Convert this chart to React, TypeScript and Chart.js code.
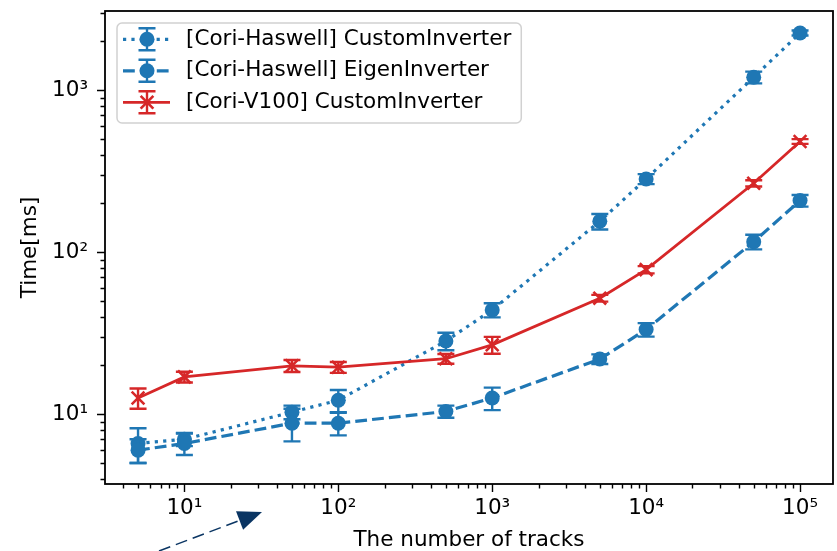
import React, { useEffect, useRef } from 'react';
import Chart from 'chart.js/auto';

// Benchmark: matrix-inversion time vs. number of tracks
const tracks = [5, 10, 50, 100, 500, 1000, 5000, 10000, 50000, 100000];

const haswellCustom = [6.6, 7.0, 10.3, 12.2, 28.3, 44, 155, 283, 1200, 2250];
const haswellCustomErr = [1.6, 0.65, 1.0, 1.9, 3.5, 4.4, 17, 20, 100, 80];

const haswellEigen = [6.0, 6.6, 8.8, 8.8, 10.4, 12.6, 21.9, 33.3, 116, 208];
const haswellEigenErr = [1.0, 1.0, 2.0, 1.4, 0.9, 2.0, 1.5, 3.2, 12, 17];

const v100Custom = [12.6, 17.0, 19.9, 19.5, 22.0, 26.8, 52, 78, 266, 482];
const v100CustomErr = [1.8, 1.3, 1.7, 1.5, 1.5, 3.2, 2.5, 4, 12, 16];

const seriesLabels = [
  '[Cori-Haswell] CustomInverter',
  '[Cori-Haswell] EigenInverter',
  '[Cori-V100] CustomInverter',
];

const xRange = [3.05, 163700];
const yRange = [3.71, 3076];

const BLUE = '#1f77b4';
const RED = '#d62728';
const FONT = '"DejaVu Sans", sans-serif';
const FS = 21.5;

const SUP: Record<string, string> = {
  '0': '\u2070', '1': '\u00b9', '2': '\u00b2', '3': '\u00b3', '4': '\u2074',
  '5': '\u2075', '6': '\u2076', '7': '\u2077', '8': '\u2078', '9': '\u2079', '-': '\u207b',
};

function isPow10(v: number) {
  const e = Math.log10(v);
  return Math.abs(e - Math.round(e)) < 1e-6;
}

function decadeLabel(v: number) {
  if (!isPow10(v)) return '';
  const e = String(Math.round(Math.log10(v)));
  return '10' + e.split('').map((c) => SUP[c] || c).join('');
}

function logTicks(min: number, max: number) {
  const out: { value: number; major: boolean }[] = [];
  for (let k = Math.floor(Math.log10(min)); k <= Math.ceil(Math.log10(max)); k++) {
    for (let m = 1; m <= 9; m++) {
      const v = m * Math.pow(10, k);
      if (v >= min && v <= max) out.push({ value: v, major: m === 1 });
    }
  }
  return out;
}

function points(values: number[]) {
  return tracks.map((x, i) => ({ x, y: values[i] }));
}

function drawErrorBar(ctx: CanvasRenderingContext2D, x: number, yTop: number, yBot: number, cap: number) {
  ctx.beginPath();
  ctx.moveTo(x, yTop);
  ctx.lineTo(x, yBot);
  ctx.moveTo(x - cap, yTop);
  ctx.lineTo(x + cap, yTop);
  ctx.moveTo(x - cap, yBot);
  ctx.lineTo(x + cap, yBot);
  ctx.stroke();
}

function drawMarker(ctx: CanvasRenderingContext2D, style: string, x: number, y: number, r: number, color: string) {
  ctx.save();
  ctx.setLineDash([]);
  if (style === 'crossRot') {
    const d = r * Math.SQRT1_2;
    ctx.strokeStyle = color;
    ctx.lineWidth = 2.6;
    ctx.beginPath();
    ctx.moveTo(x - d, y - d);
    ctx.lineTo(x + d, y + d);
    ctx.moveTo(x - d, y + d);
    ctx.lineTo(x + d, y - d);
    ctx.stroke();
  } else {
    ctx.fillStyle = color;
    ctx.beginPath();
    ctx.arc(x, y, r, 0, Math.PI * 2);
    ctx.fill();
  }
  ctx.restore();
}

// y error bars, painted just beneath each series' own line
const errorBarPlugin = {
  id: 'errorBars',
  beforeDatasetDraw(chart: any, args: any) {
    const ds = chart.data.datasets[args.index];
    const err: number[] | undefined = ds.errorBars;
    if (!err) return;
    const { ctx, scales } = chart;
    ctx.save();
    ctx.strokeStyle = ds.borderColor;
    ctx.lineWidth = 2.4;
    ctx.setLineDash([]);
    ds.data.forEach((p: { x: number; y: number }, i: number) => {
      const px = scales.x.getPixelForValue(p.x);
      const yt = scales.y.getPixelForValue(p.y + err[i]);
      const yb = scales.y.getPixelForValue(p.y - err[i]);
      drawErrorBar(ctx, px, yt, yb, 8.5);
    });
    ctx.restore();
  },
};

// axes box with major/minor log ticks
const framePlugin = {
  id: 'frame',
  afterDraw(chart: any) {
    const { ctx, chartArea: a, scales } = chart;
    ctx.save();
    ctx.strokeStyle = '#000';
    ctx.lineWidth = 1.4;
    ctx.setLineDash([]);
    ctx.beginPath();
    for (const t of scales.x.ticks) {
      const px = Math.round(scales.x.getPixelForValue(t.value)) + 0.5;
      const len = isPow10(t.value) ? 8 : 4.5;
      ctx.moveTo(px, a.bottom);
      ctx.lineTo(px, a.bottom + len);
    }
    for (const t of scales.y.ticks) {
      const py = Math.round(scales.y.getPixelForValue(t.value)) + 0.5;
      const len = isPow10(t.value) ? 8 : 4.5;
      ctx.moveTo(a.left, py);
      ctx.lineTo(a.left - len, py);
    }
    ctx.stroke();
    ctx.lineWidth = 1.8;
    ctx.strokeRect(a.left, a.top, a.right - a.left, a.bottom - a.top);
    ctx.restore();
  },
};

// legend box in the upper-left corner of the plot
const legendPlugin = {
  id: 'boxLegend',
  afterDraw(chart: any) {
    const { ctx, chartArea: a } = chart;
    const datasets = chart.data.datasets;
    ctx.save();
    ctx.font = `${FS}px ${FONT}`;
    const textX = a.left + 81;
    let maxW = 0;
    datasets.forEach((ds: any) => {
      maxW = Math.max(maxW, ctx.measureText(ds.label).width);
    });
    const bx = a.left + 12;
    const by = a.top + 12;
    const bw = textX + maxW + 10 - bx;
    const bh = 100;
    ctx.beginPath();
    ctx.roundRect(bx, by, bw, bh, 5);
    ctx.fillStyle = 'rgba(255,255,255,0.8)';
    ctx.fill();
    ctx.strokeStyle = 'rgba(204,204,204,0.9)';
    ctx.lineWidth = 1.5;
    ctx.stroke();

    datasets.forEach((ds: any, i: number) => {
      const cy = a.top + 28.3 + i * 31.5;
      const x0 = a.left + 18;
      const x1 = a.left + 65;
      const mx = a.left + 42;
      ctx.strokeStyle = ds.borderColor;
      ctx.lineWidth = ds.borderWidth;
      ctx.setLineDash(ds.borderDash || []);
      ctx.beginPath();
      ctx.moveTo(x0, cy);
      ctx.lineTo(x1, cy);
      ctx.stroke();
      ctx.setLineDash([]);
      ctx.lineWidth = 2.4;
      drawErrorBar(ctx, mx, cy - 11, cy + 11, 8.5);
      drawMarker(ctx, ds.pointStyle, mx, cy, ds.pointRadius, ds.borderColor);
      ctx.fillStyle = '#000';
      ctx.textBaseline = 'middle';
      ctx.textAlign = 'left';
      ctx.fillText(ds.label, textX, cy);
    });
    ctx.restore();
  },
};

// dashed pointer arrow below the x axis
const arrowPlugin = {
  id: 'pointer',
  afterDraw(chart: any) {
    const { ctx, chartArea: a } = chart;
    const sx = a.left + 54;
    const sy = chart.height;
    const tx = a.left + 157;
    const ty = a.bottom + 28;
    const ang = Math.atan2(ty - sy, tx - sx);
    const headLen = 24;
    const headHalf = 10;
    const bxm = tx - headLen * Math.cos(ang);
    const bym = ty - headLen * Math.sin(ang);
    ctx.save();
    ctx.strokeStyle = '#0a3563';
    ctx.fillStyle = '#0a3563';
    ctx.lineWidth = 1.5;
    ctx.setLineDash([12, 6]);
    ctx.beginPath();
    ctx.moveTo(sx, sy);
    ctx.lineTo(bxm, bym);
    ctx.stroke();
    ctx.setLineDash([]);
    ctx.beginPath();
    ctx.moveTo(tx, ty);
    ctx.lineTo(bxm + headHalf * Math.sin(ang), bym - headHalf * Math.cos(ang));
    ctx.lineTo(bxm - headHalf * Math.sin(ang), bym + headHalf * Math.cos(ang));
    ctx.closePath();
    ctx.fill();
    ctx.restore();
  },
};

function fixAxisBox(size: 'width' | 'height', value: number) {
  return (s: any) => {
    s[size] = value;
    s.paddingTop = 0;
    s.paddingBottom = 0;
    s.paddingLeft = 0;
    s.paddingRight = 0;
  };
}

export default function App() {
  const canvasRef = useRef<HTMLCanvasElement | null>(null);

  useEffect(() => {
    const canvas = canvasRef.current;
    if (!canvas) return;
    Chart.defaults.font.family = FONT;
    Chart.defaults.color = '#000';

    const chart = new Chart(canvas, {
      type: 'line',
      data: {
        datasets: [
          {
            label: seriesLabels[0],
            data: points(haswellCustom),
            errorBars: haswellCustomErr,
            borderColor: BLUE,
            backgroundColor: BLUE,
            borderWidth: 3.2,
            borderDash: [3.2, 5.2],
            pointStyle: 'circle',
            pointRadius: 7.5,
            pointBorderWidth: 0,
            pointBackgroundColor: BLUE,
            order: 2,
          },
          {
            label: seriesLabels[1],
            data: points(haswellEigen),
            errorBars: haswellEigenErr,
            borderColor: BLUE,
            backgroundColor: BLUE,
            borderWidth: 3.2,
            borderDash: [11.8, 5.1],
            pointStyle: 'circle',
            pointRadius: 7.5,
            pointBorderWidth: 0,
            pointBackgroundColor: BLUE,
            order: 1,
          },
          {
            label: seriesLabels[2],
            data: points(v100Custom),
            errorBars: v100CustomErr,
            borderColor: RED,
            backgroundColor: RED,
            borderWidth: 2.8,
            borderDash: [],
            pointStyle: 'crossRot',
            pointRadius: 9,
            pointBorderWidth: 2.6,
            pointBorderColor: RED,
            order: 0,
          },
        ] as any,
      },
      options: {
        animation: false,
        responsive: false,
        maintainAspectRatio: false,
        layout: { autoPadding: false, padding: { top: 11, right: 4, left: 0, bottom: 0 } },
        plugins: {
          legend: { display: false },
          tooltip: { enabled: false },
        },
        scales: {
          x: {
            type: 'logarithmic',
            position: 'bottom',
            min: xRange[0],
            max: xRange[1],
            grid: { display: false, drawTicks: true, tickLength: 12 },
            border: { display: false },
            ticks: {
              autoSkip: false,
              maxRotation: 0,
              padding: 0,
              color: '#000',
              font: { size: FS, family: FONT },
              callback: (v: any) => decadeLabel(Number(v)),
            },
            title: {
              display: true,
              text: 'The number of tracks',
              color: '#000',
              font: { size: FS, family: FONT, lineHeight: 1 },
              padding: { top: 0, bottom: 0 },
            },
            afterBuildTicks: (s: any) => {
              s.ticks = logTicks(xRange[0], xRange[1]);
            },
            afterFit: fixAxisBox('height', 67),
          },
          y: {
            type: 'logarithmic',
            position: 'left',
            min: yRange[0],
            max: yRange[1],
            grid: { display: false, drawTicks: true, tickLength: 17 },
            border: { display: false },
            ticks: {
              autoSkip: false,
              padding: 0,
              color: '#000',
              font: { size: FS, family: FONT },
              callback: (v: any) => decadeLabel(Number(v)),
            },
            title: {
              display: true,
              text: 'Time[ms]',
              color: '#000',
              font: { size: FS, family: FONT, lineHeight: 1 },
              padding: { top: 20, bottom: 0 },
            },
            afterBuildTicks: (s: any) => {
              s.ticks = logTicks(yRange[0], yRange[1]);
            },
            afterFit: fixAxisBox('width', 105),
          },
        },
      } as any,
      plugins: [errorBarPlugin, framePlugin, legendPlugin, arrowPlugin],
    });

    return () => chart.destroy();
  }, []);

  return (
    <div style={{ position: 'fixed', left: 0, top: 0, width: 837, height: 551, background: '#fff' }}>
      <canvas ref={canvasRef} width={837} height={551} style={{ display: 'block' }} />
    </div>
  );
}
